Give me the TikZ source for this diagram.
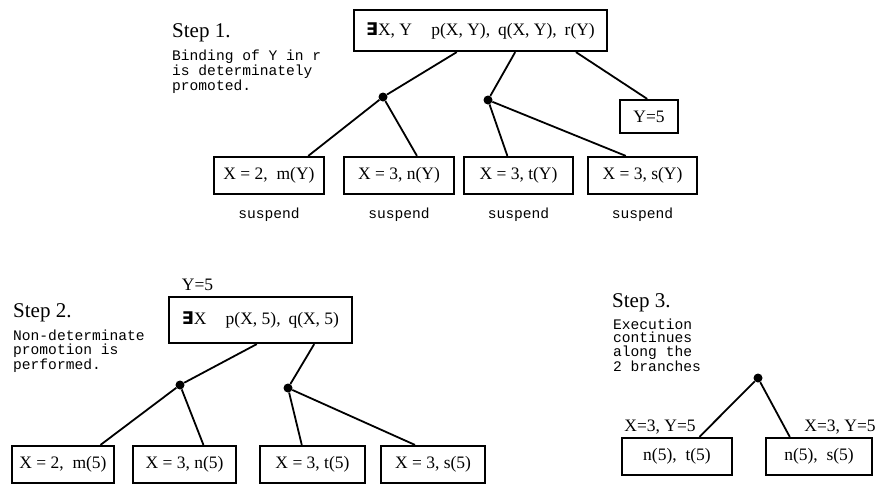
\documentclass[tikz,border=0pt]{standalone}
\usepackage{fontspec}
\usetikzlibrary{calc}
\newfontfamily\tnr{Liberation Serif}
\newfontfamily\cour{Liberation Mono}
\newfontfamily\dvs{DejaVu Sans}
\newcommand\exq{{\dvs\bfseries ∃}}
\tikzset{
 box/.style={draw, line width=2.2pt, inner sep=0pt, font=\tnr\fontsize{17.5}{20}\selectfont},
 lbl/.style={inner sep=0pt, anchor=base, font=\tnr\fontsize{17.5}{20}\selectfont},
 steplbl/.style={inner sep=0pt, anchor=base west, font=\tnr\fontsize{21}{24}\selectfont},
 desc/.style={inner sep=0pt, anchor=base west, align=left, font=\cour\fontsize{14.6}{13.6}\selectfont},
 susp/.style={inner sep=0pt, anchor=base, font=\cour\fontsize{14.6}{13.6}\selectfont},
 dot/.style={circle, fill, inner sep=0pt, minimum size=9pt},
 conn/.style={line width=1.8pt},
}
\begin{document}
\begin{tikzpicture}[x=1pt,y=-1pt]
\useasboundingbox (0,0) rectangle (876,485);
% ---------- Step 1 ----------
\node[steplbl] (s1) at (172,37) {Step 1.};
\node[desc] (d1) at (172,90) {Binding of Y in r\\is determinately\\promoted.};
\node[box, minimum width=253pt, minimum height=41pt] (top1) at (480.5,30.5)
  {\exq X, Y\hspace{1.1em}p(X, Y),\hspace{0.45em}q(X, Y),\hspace{0.45em}r(Y)};
\coordinate (p1) at ($(top1.south west)!0.407!(top1.south east)$);
\coordinate (q1) at ($(top1.south west)!0.636!(top1.south east)$);
\coordinate (r1) at ($(top1.south west)!0.874!(top1.south east)$);
\node[dot] (dot1) at (383,97) {};
\node[dot] (dot2) at (488,100) {};
\node[box, minimum width=58pt, minimum height=33pt] (y5) at (649,116.5) {Y=5};
\node[box, minimum width=110pt, minimum height=37pt] (b1) at (269,175.5) {X = 2,\hspace{0.5em}m(Y)};
\node[box, minimum width=110pt, minimum height=37pt] (b2) at (399,175.5) {X = 3, n(Y)};
\node[box, minimum width=109pt, minimum height=37pt] (b3) at (518.5,175.5) {X = 3, t(Y)};
\node[box, minimum width=109pt, minimum height=37pt] (b4) at (642.5,175.5) {X = 3, s(Y)};
\draw[conn] (p1) -- (dot1);
\draw[conn] (q1) -- (dot2);
\draw[conn] (r1) -- ($(y5.north west)!0.47!(y5.north east)$);
\draw[conn] (dot1) -- ($(b1.north west)!0.85!(b1.north east)$);
\draw[conn] (dot1) -- ($(b2.north west)!0.66!(b2.north east)$);
\draw[conn] (dot2) -- ($(b3.north west)!0.40!(b3.north east)$);
\draw[conn] (dot2) -- ($(b4.north west)!0.35!(b4.north east)$);
\foreach \b/\n in {b1/u1,b2/u2,b3/u3,b4/u4}
  \node[susp] (\n) at ($(\b.south)+(0,23)$) {suspend};
% ---------- Step 2 ----------
\node[steplbl] (s2) at (13,317) {Step 2.};
\node[desc] (d2) at (13,369) {Non-determinate\\promotion is\\performed.};
\node[lbl] (y5b) at (197.5,290) {Y=5};
\node[box, minimum width=183pt, minimum height=46pt] (top2) at (260.5,320)
  {\exq X\hspace{1.1em}p(X, 5),\hspace{0.45em}q(X, 5)};
\coordinate (p2) at ($(top2.south west)!0.48!(top2.south east)$);
\coordinate (q2) at ($(top2.south west)!0.79!(top2.south east)$);
\node[dot] (dot3) at (180,385) {};
\node[dot] (dot4) at (288,388) {};
\node[box, minimum width=102pt, minimum height=37pt] (b5) at (63,464.5) {X = 2,\hspace{0.5em}m(5)};
\node[box, minimum width=103pt, minimum height=37pt] (b6) at (184.5,464.5) {X = 3, n(5)};
\node[box, minimum width=105pt, minimum height=37pt] (b7) at (312.5,464.5) {X = 3, t(5)};
\node[box, minimum width=104pt, minimum height=37pt] (b8) at (433,464.5) {X = 3, s(5)};
\draw[conn] (p2) -- (dot3);
\draw[conn] (q2) -- (dot4);
\draw[conn] (dot3) -- ($(b5.north west)!0.86!(b5.north east)$);
\draw[conn] (dot3) -- ($(b6.north west)!0.68!(b6.north east)$);
\draw[conn] (dot4) -- ($(b7.north west)!0.40!(b7.north east)$);
\draw[conn] (dot4) -- ($(b8.north west)!0.33!(b8.north east)$);
% ---------- Step 3 ----------
\node[steplbl] (s3) at (612,307) {Step 3.};
\node[desc] (d3) at (613,371) {Execution\\continues\\along the\\2 branches};
\node[dot] (dot5) at (758,378) {};
\node[box, minimum width=110pt, minimum height=37pt] (lb) at (677,456.5) {n(5),\hspace{0.5em}t(5)};
\node[box, minimum width=106pt, minimum height=37pt] (rb) at (819,456.5) {n(5),\hspace{0.5em}s(5)};
\node[lbl] (ll) at (660,431) {X=3, Y=5};
\node[lbl] (rl) at (840,431) {X=3, Y=5};
\draw[conn] (dot5) -- ($(lb.north west)!0.70!(lb.north east)$);
\draw[conn] (dot5) -- ($(rb.north west)!0.23!(rb.north east)$);
\end{tikzpicture}
\end{document}
